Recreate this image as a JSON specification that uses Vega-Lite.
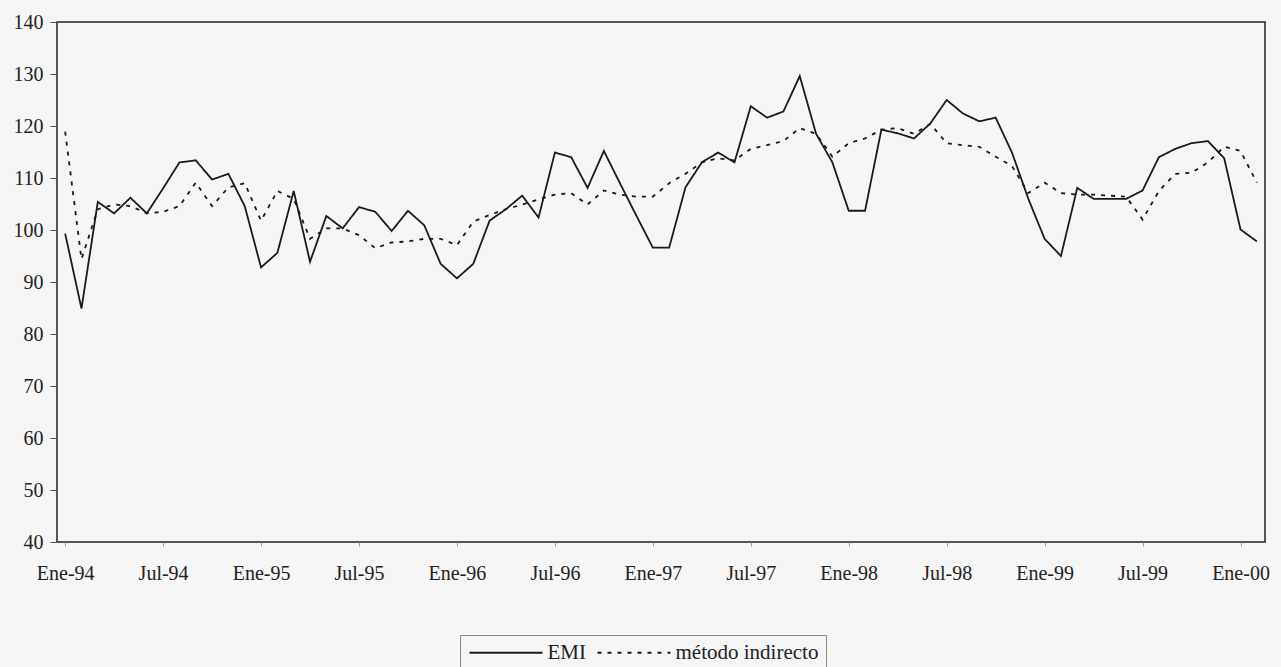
{
  "$schema": "https://vega.github.io/schema/vega-lite/v6.json",
  "width": 1208,
  "height": 520,
  "autosize": {"type": "none"},
  "padding": {"left": 57, "top": 22, "right": 16, "bottom": 125},
  "background": "#f6f6f6",
  "config": {
    "view": {"stroke": "#222222", "strokeWidth": 1.5},
    "font": "Liberation Serif"
  },
  "data": {
    "values": [
      {"mes": "Ene-94", "EMI": 99.3, "método indirecto": 118.9},
      {"mes": "Feb-94", "EMI": 84.9, "método indirecto": 94.4},
      {"mes": "Mar-94", "EMI": 105.4, "método indirecto": 104.0},
      {"mes": "Abr-94", "EMI": 103.2, "método indirecto": 104.9},
      {"mes": "May-94", "EMI": 106.2, "método indirecto": 104.6},
      {"mes": "Jun-94", "EMI": 103.2, "método indirecto": 103.2},
      {"mes": "Jul-94", "EMI": 108.0, "método indirecto": 103.5},
      {"mes": "Ago-94", "EMI": 113.0, "método indirecto": 104.6},
      {"mes": "Sep-94", "EMI": 113.4, "método indirecto": 109.1},
      {"mes": "Oct-94", "EMI": 109.7, "método indirecto": 104.6},
      {"mes": "Nov-94", "EMI": 110.8, "método indirecto": 108.2},
      {"mes": "Dic-94", "EMI": 104.6, "método indirecto": 109.0},
      {"mes": "Ene-95", "EMI": 92.8, "método indirecto": 101.8},
      {"mes": "Feb-95", "EMI": 95.6, "método indirecto": 107.5},
      {"mes": "Mar-95", "EMI": 107.5, "método indirecto": 106.0},
      {"mes": "Abr-95", "EMI": 93.9, "método indirecto": 98.3},
      {"mes": "May-95", "EMI": 102.7, "método indirecto": 100.3},
      {"mes": "Jun-95", "EMI": 100.3, "método indirecto": 100.3},
      {"mes": "Jul-95", "EMI": 104.4, "método indirecto": 99.0},
      {"mes": "Ago-95", "EMI": 103.5, "método indirecto": 96.5},
      {"mes": "Sep-95", "EMI": 99.8, "método indirecto": 97.6},
      {"mes": "Oct-95", "EMI": 103.7, "método indirecto": 97.8},
      {"mes": "Nov-95", "EMI": 100.9, "método indirecto": 98.3},
      {"mes": "Dic-95", "EMI": 93.5, "método indirecto": 98.3},
      {"mes": "Ene-96", "EMI": 90.7, "método indirecto": 97.1},
      {"mes": "Feb-96", "EMI": 93.5, "método indirecto": 101.6},
      {"mes": "Mar-96", "EMI": 101.8, "método indirecto": 102.9},
      {"mes": "Abr-96", "EMI": 104.0, "método indirecto": 104.0},
      {"mes": "May-96", "EMI": 106.6, "método indirecto": 104.9},
      {"mes": "Jun-96", "EMI": 102.4, "método indirecto": 105.9},
      {"mes": "Jul-96", "EMI": 114.9, "método indirecto": 106.8},
      {"mes": "Ago-96", "EMI": 114.0, "método indirecto": 107.1},
      {"mes": "Sep-96", "EMI": 108.1, "método indirecto": 104.9},
      {"mes": "Oct-96", "EMI": 115.2, "método indirecto": 107.6},
      {"mes": "Nov-96", "EMI": 108.9, "método indirecto": 106.8},
      {"mes": "Dic-96", "EMI": 102.7, "método indirecto": 106.4},
      {"mes": "Ene-97", "EMI": 96.6, "método indirecto": 106.4},
      {"mes": "Feb-97", "EMI": 96.6, "método indirecto": 109.0},
      {"mes": "Mar-97", "EMI": 108.2, "método indirecto": 110.8},
      {"mes": "Abr-97", "EMI": 113.0, "método indirecto": 113.0},
      {"mes": "May-97", "EMI": 114.9, "método indirecto": 113.8},
      {"mes": "Jun-97", "EMI": 113.0, "método indirecto": 113.4},
      {"mes": "Jul-97", "EMI": 123.8, "método indirecto": 115.6},
      {"mes": "Ago-97", "EMI": 121.6, "método indirecto": 116.3},
      {"mes": "Sep-97", "EMI": 122.8, "método indirecto": 117.1},
      {"mes": "Oct-97", "EMI": 129.6, "método indirecto": 119.6},
      {"mes": "Nov-97", "EMI": 118.5, "método indirecto": 118.5},
      {"mes": "Dic-97", "EMI": 113.0, "método indirecto": 114.1},
      {"mes": "Ene-98", "EMI": 103.7, "método indirecto": 116.7},
      {"mes": "Feb-98", "EMI": 103.7, "método indirecto": 117.6},
      {"mes": "Mar-98", "EMI": 119.3, "método indirecto": 119.3},
      {"mes": "Abr-98", "EMI": 118.6, "método indirecto": 119.6},
      {"mes": "May-98", "EMI": 117.6, "método indirecto": 118.5},
      {"mes": "Jun-98", "EMI": 120.5, "método indirecto": 120.4},
      {"mes": "Jul-98", "EMI": 125.0, "método indirecto": 116.7},
      {"mes": "Ago-98", "EMI": 122.4, "método indirecto": 116.3},
      {"mes": "Sep-98", "EMI": 120.9, "método indirecto": 116.0},
      {"mes": "Oct-98", "EMI": 121.6, "método indirecto": 114.1},
      {"mes": "Nov-98", "EMI": 114.9, "método indirecto": 112.3},
      {"mes": "Dic-98", "EMI": 106.0, "método indirecto": 107.1},
      {"mes": "Ene-99", "EMI": 98.3, "método indirecto": 109.1},
      {"mes": "Feb-99", "EMI": 95.0, "método indirecto": 107.1},
      {"mes": "Mar-99", "EMI": 108.1, "método indirecto": 106.8},
      {"mes": "Abr-99", "EMI": 106.0, "método indirecto": 106.8},
      {"mes": "May-99", "EMI": 106.0, "método indirecto": 106.6},
      {"mes": "Jun-99", "EMI": 106.0, "método indirecto": 106.4},
      {"mes": "Jul-99", "EMI": 107.6, "método indirecto": 102.0},
      {"mes": "Ago-99", "EMI": 114.0, "método indirecto": 107.5},
      {"mes": "Sep-99", "EMI": 115.6, "método indirecto": 110.8},
      {"mes": "Oct-99", "EMI": 116.7, "método indirecto": 111.0},
      {"mes": "Nov-99", "EMI": 117.1, "método indirecto": 113.0},
      {"mes": "Dic-99", "EMI": 113.8, "método indirecto": 116.0},
      {"mes": "Ene-00", "EMI": 100.1, "método indirecto": 115.2},
      {"mes": "Feb-00", "EMI": 97.8, "método indirecto": 109.1}
    ]
  },
  "transform": [
    {"fold": ["EMI", "método indirecto"], "as": ["serie", "valor"]}
  ],
  "mark": {"type": "line", "color": "#1a1a1a", "strokeWidth": 1.8},
  "encoding": {
    "x": {
      "field": "mes",
      "type": "ordinal",
      "sort": null,
      "scale": {"type": "point", "padding": 0.5},
      "axis": {
        "values": ["Ene-94", "Jul-94", "Ene-95", "Jul-95", "Ene-96", "Jul-96", "Ene-97", "Jul-97", "Ene-98", "Jul-98", "Ene-99", "Jul-99", "Ene-00"],
        "title": null,
        "labelAngle": 0,
        "domain": false,
        "grid": false,
        "tickSize": 4,
        "tickColor": "#999999",
        "labelFontSize": 20,
        "labelColor": "#222222",
        "labelPadding": 17
      }
    },
    "y": {
      "field": "valor",
      "type": "quantitative",
      "scale": {"domain": [40, 140], "nice": false, "zero": false},
      "axis": {
        "values": [40, 50, 60, 70, 80, 90, 100, 110, 120, 130, 140],
        "title": null,
        "domain": false,
        "grid": false,
        "tickSize": 7,
        "tickColor": "#555555",
        "labelPadding": 7,
        "labelFontSize": 20,
        "labelColor": "#222222"
      }
    },
    "strokeDash": {
      "field": "serie",
      "type": "nominal",
      "scale": {"domain": ["EMI", "método indirecto"], "range": [[1, 0], [4, 6]]},
      "legend": {
        "title": null,
        "orient": "none",
        "legendX": 403,
        "legendY": 613,
        "direction": "horizontal",
        "symbolType": "M-5,0H5",
        "symbolSize": 213,
        "symbolOffset": 28.5,
        "symbolStrokeWidth": 1.8,
        "symbolStrokeColor": "#1a1a1a",
        "labelFontSize": 21,
        "labelColor": "#222222",
        "labelOffset": 31,
        "columnPadding": 7,
        "padding": 7,
        "strokeColor": "#888888"
      }
    }
  }
}
